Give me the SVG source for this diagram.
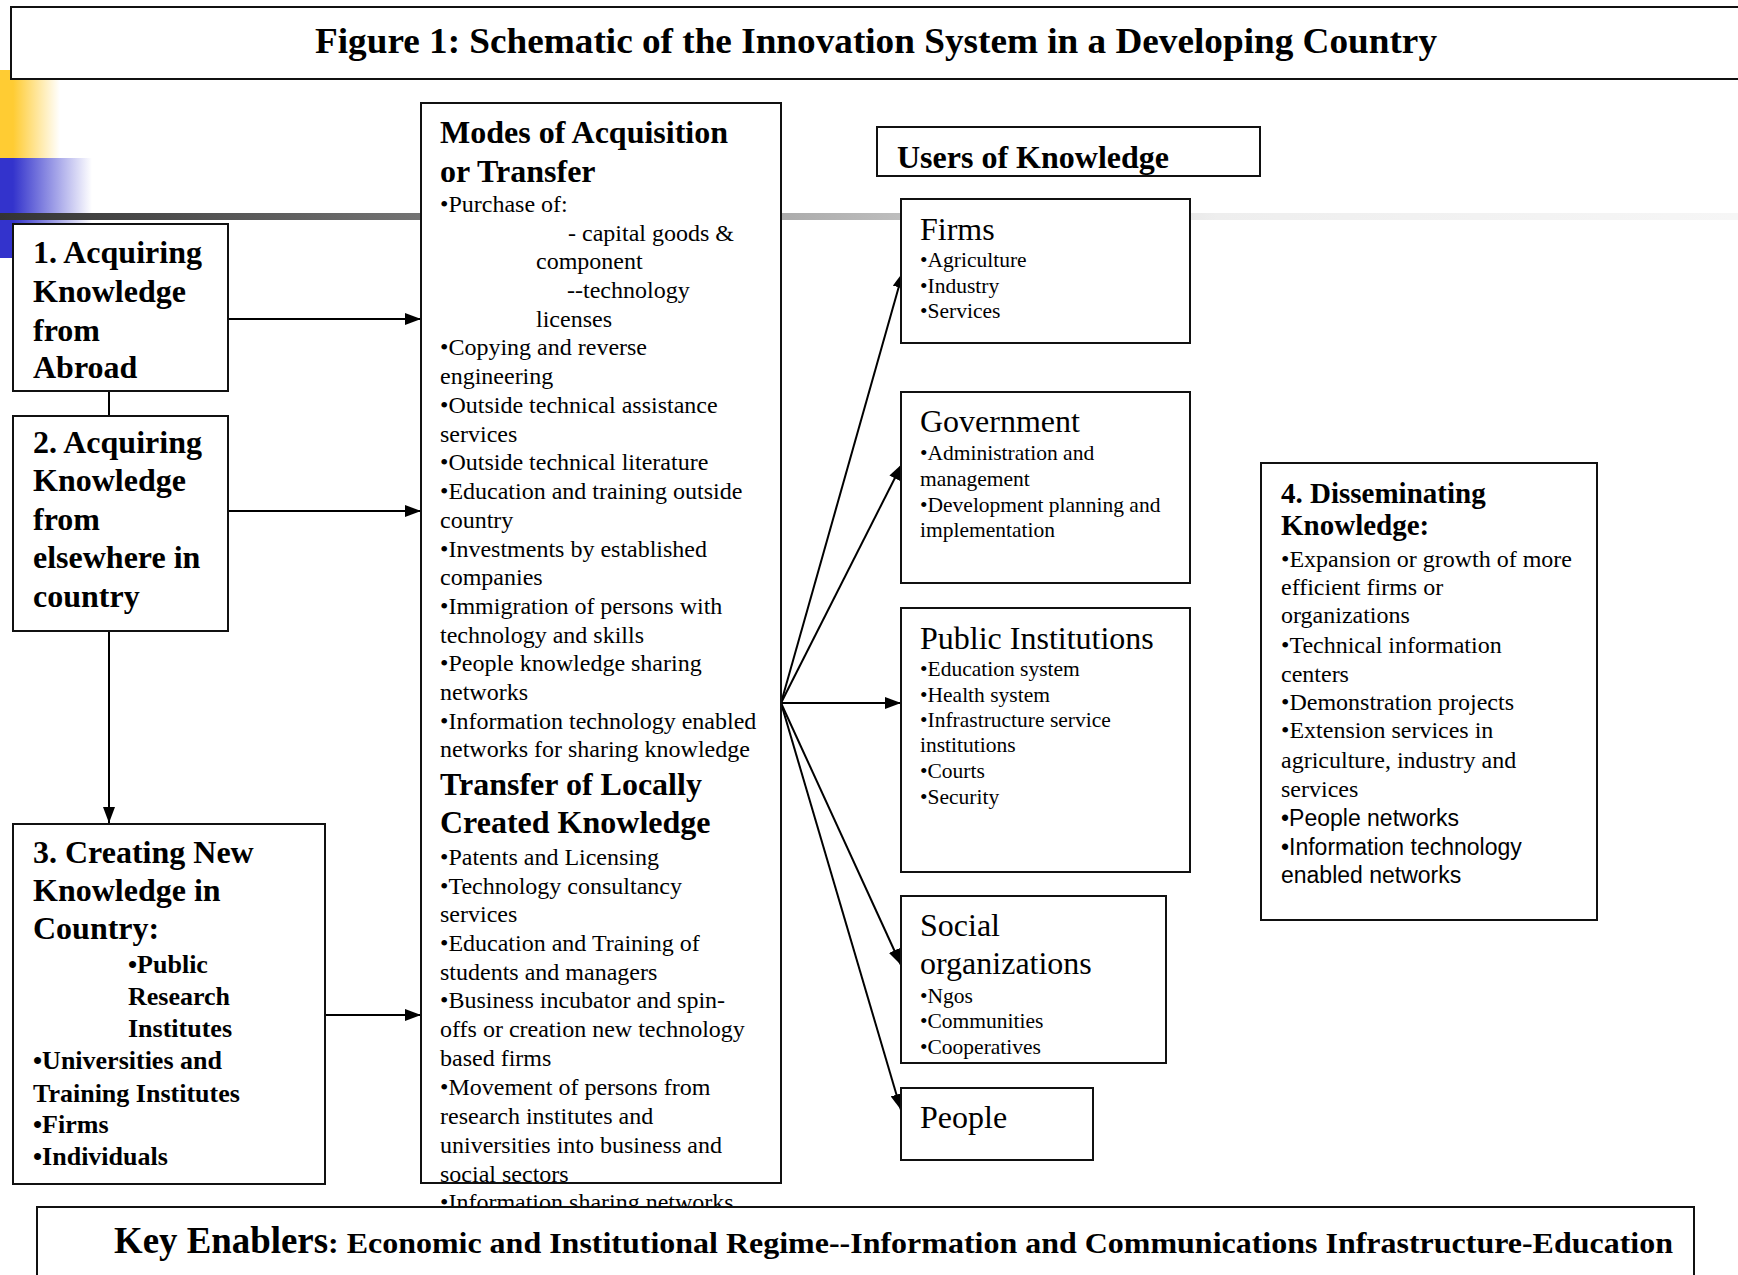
<svg xmlns="http://www.w3.org/2000/svg" width="1738" height="1275" viewBox="0 0 1738 1275">
<style>
.box{fill:#fff;stroke:#111;stroke-width:2}
text{font-family:"Liberation Serif","Times New Roman",serif;fill:#000}
.h32{font-size:32px;font-weight:bold}
.h29{font-size:29px;font-weight:bold}
.b26{font-size:26px;font-weight:bold}
.r32{font-size:32px}
.r24{font-size:24px}
.r21{font-size:21.5px}
.s23{font-family:"Liberation Sans",Arial,sans-serif;font-size:23px}
.con{stroke:#000;stroke-width:2;fill:none}
</style>
<defs>
<linearGradient id="gy" x1="0" x2="1" y1="0" y2="0">
<stop offset="0" stop-color="#FFCC33"/><stop offset="0.22" stop-color="#FFCC33"/><stop offset="1" stop-color="#FFFFFF"/>
</linearGradient>
<linearGradient id="gb" x1="0" x2="1" y1="0" y2="0">
<stop offset="0" stop-color="#3333CC"/><stop offset="0.14" stop-color="#3333CC"/><stop offset="1" stop-color="#FFFFFF"/>
</linearGradient>
<linearGradient id="gg" x1="0" x2="1" y1="0" y2="0">
<stop offset="0" stop-color="#333333"/><stop offset="0.7" stop-color="#EEEEEE"/><stop offset="1" stop-color="#F6F6F6"/>
</linearGradient>
<marker id="ah" markerUnits="userSpaceOnUse" markerWidth="16" markerHeight="12" refX="16" refY="6" orient="auto">
<path d="M0,0 L16,6 L0,12 z" fill="#000"/>
</marker>
</defs>

<g id="decor">
<rect x="0" y="70" width="60" height="88" fill="url(#gy)"/>
<rect x="0" y="158" width="92" height="100" fill="url(#gb)"/>
<rect x="0" y="213" width="1738" height="7" fill="url(#gg)"/>
</g>

<g id="title">
<rect class="box" x="11" y="7" width="1800" height="72"/>
<text x="315" y="53" font-size="36" font-weight="bold" textLength="1122" lengthAdjust="spacingAndGlyphs">Figure 1: Schematic of the Innovation System in a Developing Country</text>
</g>

<g id="connectors">
<line class="con" x1="109" y1="391" x2="109" y2="416"/>
<line class="con" x1="228" y1="319" x2="421" y2="319" marker-end="url(#ah)"/>
<line class="con" x1="228" y1="511" x2="421" y2="511" marker-end="url(#ah)"/>
<line class="con" x1="109" y1="631" x2="109" y2="823" marker-end="url(#ah)"/>
<line class="con" x1="325" y1="1015" x2="421" y2="1015" marker-end="url(#ah)"/>
<line class="con" x1="781" y1="703" x2="903" y2="272" marker-end="url(#ah)"/>
<line class="con" x1="781" y1="703" x2="902" y2="464" marker-end="url(#ah)"/>
<line class="con" x1="781" y1="703" x2="901" y2="703" marker-end="url(#ah)"/>
<line class="con" x1="781" y1="703" x2="901" y2="965" marker-end="url(#ah)"/>
<line class="con" x1="781" y1="703" x2="901" y2="1110" marker-end="url(#ah)"/>
</g>

<g id="box1">
<rect class="box" x="13" y="224" width="215" height="167"/>
<text class="h32" x="33" y="263">1. Acquiring</text>
<text class="h32" x="33" y="302">Knowledge</text>
<text class="h32" x="33" y="341">from</text>
<text class="h32" x="33" y="378">Abroad</text>
</g>

<g id="box2">
<rect class="box" x="13" y="416" width="215" height="215"/>
<text class="h32" x="33" y="453">2. Acquiring</text>
<text class="h32" x="33" y="491">Knowledge</text>
<text class="h32" x="33" y="530">from</text>
<text class="h32" x="33" y="568">elsewhere in</text>
<text class="h32" x="33" y="607">country</text>
</g>

<g id="box3">
<rect class="box" x="13" y="824" width="312" height="360"/>
<text class="h32" x="33" y="863">3. Creating New</text>
<text class="h32" x="33" y="901">Knowledge in</text>
<text class="h32" x="33" y="939">Country:</text>
<text class="b26" x="128" y="973">•Public</text>
<text class="b26" x="128" y="1005">Research</text>
<text class="b26" x="128" y="1037">Institutes</text>
<text class="b26" x="33" y="1069">•Universities and</text>
<text class="b26" x="33" y="1102">Training Institutes</text>
<text class="b26" x="33" y="1133">•Firms</text>
<text class="b26" x="33" y="1165">•Individuals</text>
</g>

<g id="modes">
<rect class="box" x="421" y="103" width="360" height="1080"/>
<text class="h32" x="440" y="143">Modes of Acquisition</text>
<text class="h32" x="440" y="182">or Transfer</text>
<g class="r24">
<text x="440" y="212">•Purchase of:</text>
<text x="568" y="241">- capital goods &amp;</text>
<text x="536" y="269">component</text>
<text x="567" y="298">--technology</text>
<text x="536" y="327">licenses</text>
<text x="440" y="355">•Copying and reverse</text>
<text x="440" y="384">engineering</text>
<text x="440" y="413">•Outside technical assistance</text>
<text x="440" y="442">services</text>
<text x="440" y="470">•Outside technical literature</text>
<text x="440" y="499">•Education and training outside</text>
<text x="440" y="528">country</text>
<text x="440" y="557">•Investments by established</text>
<text x="440" y="585">companies</text>
<text x="440" y="614">•Immigration of persons with</text>
<text x="440" y="643">technology and skills</text>
<text x="440" y="671">•People knowledge sharing</text>
<text x="440" y="700">networks</text>
<text x="440" y="729">•Information technology enabled</text>
<text x="440" y="757">networks for sharing knowledge</text>
</g>
<text class="h32" x="440" y="795">Transfer of Locally</text>
<text class="h32" x="440" y="833">Created Knowledge</text>
<g class="r24">
<text x="440" y="865">•Patents and Licensing</text>
<text x="440" y="894">•Technology consultancy</text>
<text x="440" y="922">services</text>
<text x="440" y="951">•Education and Training of</text>
<text x="440" y="980">students and managers</text>
<text x="440" y="1008">•Business incubator and spin-</text>
<text x="440" y="1037">offs or creation new technology</text>
<text x="440" y="1066">based firms</text>
<text x="440" y="1095">•Movement of persons from</text>
<text x="440" y="1124">research institutes and</text>
<text x="440" y="1153">universities into business and</text>
<text x="440" y="1182">social sectors</text>
<text x="440" y="1210">•Information sharing networks</text>
</g>
</g>

<g id="users">
<rect class="box" x="877" y="127" width="383" height="49"/>
<text class="h32" x="897" y="168">Users of Knowledge</text>
</g>

<g id="firms">
<rect class="box" x="901" y="199" width="289" height="144"/>
<text class="r32" x="920" y="240">Firms</text>
<g class="r21">
<text x="920" y="267">•Agriculture</text>
<text x="920" y="293">•Industry</text>
<text x="920" y="318">•Services</text>
</g>
</g>

<g id="government">
<rect class="box" x="901" y="392" width="289" height="191"/>
<text class="r32" x="920" y="432">Government</text>
<g class="r21">
<text x="920" y="460">•Administration and</text>
<text x="920" y="486">management</text>
<text x="920" y="512">•Development planning and</text>
<text x="920" y="537">implementation</text>
</g>
</g>

<g id="public">
<rect class="box" x="901" y="608" width="289" height="264"/>
<text class="r32" x="920" y="649">Public Institutions</text>
<g class="r21">
<text x="920" y="676">•Education system</text>
<text x="920" y="702">•Health system</text>
<text x="920" y="727">•Infrastructure service</text>
<text x="920" y="752">institutions</text>
<text x="920" y="778">•Courts</text>
<text x="920" y="804">•Security</text>
</g>
</g>

<g id="social">
<rect class="box" x="901" y="896" width="265" height="167"/>
<text class="r32" x="920" y="936">Social</text>
<text class="r32" x="920" y="974">organizations</text>
<g class="r21">
<text x="920" y="1003">•Ngos</text>
<text x="920" y="1028">•Communities</text>
<text x="920" y="1054">•Cooperatives</text>
</g>
</g>

<g id="people">
<rect class="box" x="901" y="1088" width="192" height="72"/>
<text class="r32" x="920" y="1128">People</text>
</g>

<g id="disseminating">
<rect class="box" x="1261" y="463" width="336" height="457"/>
<text class="h29" x="1281" y="503">4. Disseminating</text>
<text class="h29" x="1281" y="535">Knowledge:</text>
<g class="r24">
<text x="1281" y="567">•Expansion or growth of more</text>
<text x="1281" y="595">efficient firms or</text>
<text x="1281" y="623">organizations</text>
<text x="1281" y="653">•Technical information</text>
<text x="1281" y="682">centers</text>
<text x="1281" y="710">•Demonstration projects</text>
<text x="1281" y="738">•Extension services in</text>
<text x="1281" y="768">agriculture, industry and</text>
<text x="1281" y="797">services</text>
</g>
<text class="s23" x="1281" y="826">•People networks</text>
<text class="s23" x="1281" y="855">•Information technology</text>
<text class="s23" x="1281" y="883">enabled networks</text>
</g>

<g id="enablers">
<rect class="box" x="37" y="1207" width="1657" height="120"/>
<text x="114" y="1253" font-size="37" font-weight="bold" textLength="214" lengthAdjust="spacingAndGlyphs">Key Enablers</text>
<text x="328" y="1253" font-size="30" font-weight="bold" textLength="1345" lengthAdjust="spacingAndGlyphs">: Economic and Institutional Regime--Information and Communications Infrastructure-Education</text>
</g>
</svg>
